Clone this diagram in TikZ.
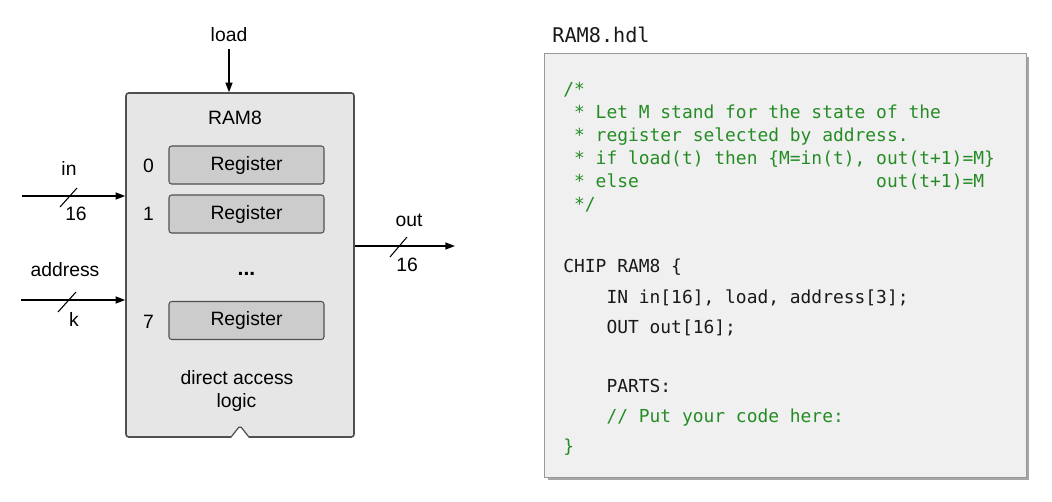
\documentclass[tikz,border=0pt]{standalone}
\usepackage{fontspec}
\setmainfont{Liberation Sans}
\newfontfamily\hdlfont{DejaVu Sans Mono}
\usetikzlibrary{arrows.meta,shadows}
\definecolor{chipgray}{HTML}{E6E6E6}
\definecolor{reggray}{HTML}{CCCCCC}
\definecolor{edgegray}{HTML}{505050}
\definecolor{panelbg}{HTML}{F0F0F0}
\definecolor{hdlgreen}{HTML}{258C25}

\begin{document}
\begin{tikzpicture}[x=0.02cm, y=-0.02cm,
        lbl/.style={inner sep=0pt, font=\fontsize{11}{13}\selectfont},
        reg/.style={rectangle, draw=edgegray, line width=0.6pt, fill=reggray, rounded corners=1.5pt,
            minimum width=3.1cm, minimum height=0.76cm, inner sep=0pt, font=\fontsize{11}{13}\selectfont},
        wire/.style={line width=0.8pt, -{Triangle[length=5.5pt,width=4pt]}},
        bus/.style={line width=0.6pt},
        hdl/.style={anchor=base west, inner sep=0pt, text=black!90, font=\hdlfont\fontsize{10.2}{12}\selectfont},
        hdlcmt/.style={hdl, text=hdlgreen}]

    \useasboundingbox (0,0) rectangle (1052,501);

    % chip
    \node (ram) [rectangle, draw=edgegray, line width=0.9pt, fill=chipgray, rounded corners=1.5pt,
        minimum width=4.56cm, minimum height=6.88cm, inner sep=0pt] at (240,265) {};
    \node (name) [lbl] at (235,117.5) {RAM8};
    \node (reg0) [reg] at (246.5,165) {Register};
    \node (reg1) [reg] at (246.5,214) {Register};
    \node (reg7) [reg] at (246.5,320.5) {Register};
    \node (idx0) [lbl] at (148.5,165.5) {0};
    \node (idx1) [lbl] at (148.5,214) {1};
    \node (idx7) [lbl] at (148.5,322) {7};
    \node (dots) [lbl, anchor=base, font=\fontsize{12}{13}\selectfont\bfseries] at (246.5,275) {...};
    \node (logic1) [lbl] at (237,378) {direct access};
    \node (logic2) [lbl] at (236.5,402) {logic};
    \draw[edgegray, fill=white, line width=0.7pt, rounded corners=1pt]
        (ram.south) ++(-9.5,0) -- ++(9.5,-12) -- ++(9.5,12);

    % load
    \node (loadL) [lbl] at (229,35) {load};
    \draw[wire] ([yshift=-4pt]loadL.south) -- (loadL.south |- ram.north);

    % in
    \node (inL) [lbl] at (69,168) {in};
    \coordinate (inS) at (22,196);
    \draw[wire] (inS) -- (inS -| ram.west);
    \coordinate (inX) at (68.5,197.5);
    \draw[bus] (inX) ++(-8.5,9.5) -- ++(17,-19);
    \node (inW) [lbl] at (76,214) {16};

    % address
    \node (adL) [lbl] at (65,270) {address};
    \coordinate (adS) at (21,300);
    \draw[wire] (adS) -- (adS -| ram.west);
    \coordinate (adX) at (67,302);
    \draw[bus] (adX) ++(-9,10) -- ++(18,-20);
    \node (adW) [lbl] at (74,319) {k};

    % out
    \node (outL) [lbl] at (409,220) {out};
    \coordinate (outE) at (455,246);
    \draw[wire] (outE -| ram.east) -- (outE);
    \coordinate (outX) at (398.5,247);
    \draw[bus] (outX) ++(-8.5,10) -- ++(17,-20);
    \node (outW) [lbl] at (407,265) {16};

    % hdl file
    \node (file) [hdl, font=\hdlfont\fontsize{11.5}{13}\selectfont] at (552,42) {RAM8.hdl};
    \node (panel) [rectangle, draw=black!40, fill=panelbg, minimum width=9.64cm, minimum height=8.48cm,
        inner sep=0pt, drop shadow={shadow xshift=2pt, shadow yshift=-2pt, fill=black, opacity=0.35}] at (785,265) {};
    \node (c1) [hdlcmt] at (563,95) {/*};
    \node (c2) [hdlcmt] at (563,118) {\ * Let M stand for the state of the};
    \node (c3) [hdlcmt] at (563,141) {\ * register selected by address.};
    \node (c4) [hdlcmt] at (563,164) {\ * if load(t) then \{M=in(t), out(t+1)=M\}};
    \node (c5) [hdlcmt] at (563,187) {\ * else\phantom{ load(t) then \{M=in(t)}out(t+1)=M};
    \node (c6) [hdlcmt] at (563,210) {\ */};
    \node (chip) [hdl] at (563,272) {CHIP RAM8 \{};
    \node (ins) [hdl] at (563,303) {\ \ \ \ IN in[16], load, address[3];};
    \node (outs) [hdl] at (563,333) {\ \ \ \ OUT out[16];};
    \node (parts) [hdl] at (563,392) {\ \ \ \ PARTS:};
    \node (todo) [hdlcmt] at (563,422) {\ \ \ \ // Put your code here:};
    \node (close) [hdlcmt] at (563,452) {\}};
\end{tikzpicture}
\end{document}
